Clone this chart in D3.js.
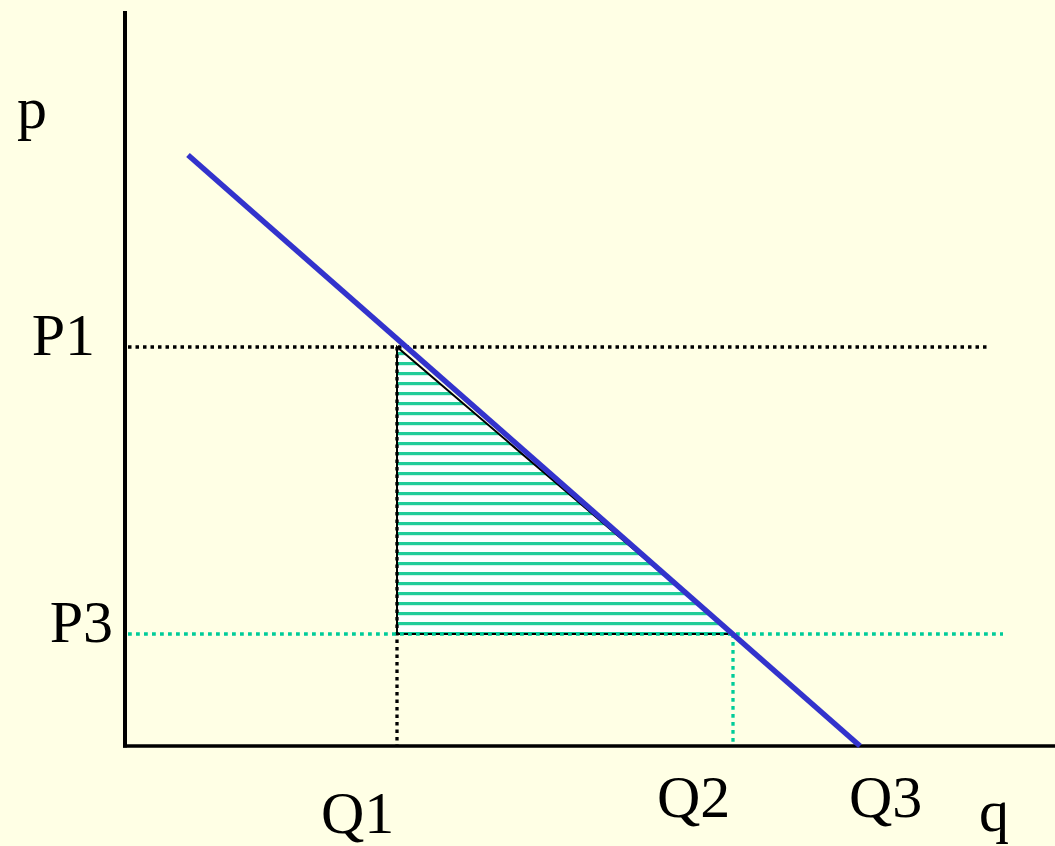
<!DOCTYPE html>
<html lang="en">
<head>
  <meta charset="UTF-8">
  <title>Demand triangle</title>
  <style>
    body { margin: 0; background: #ffffe5; }
    text { font-family: "Liberation Serif", "Times New Roman", Times, serif; font-size: 60px; fill: #000; }
  </style>
</head>
<body>
  <svg id="svg" width="1055" height="846"></svg>

  <script src="https://d3js.org/d3.v7.min.js"></script>
  <script>
    // quantities and prices (arbitrary units)
    const qLabels = ['Q1', 'Q2', 'Q3']
    const qValues = [27.2, 60.8, 73.5]
    const pLabels = ['P1', 'P3']
    const pValues = [39.9, 11.2]
    // demand curve end points [q, p]
    const demandQ = [6.3, 73.5]
    const demandP = [59.1, 0]

    const width = 1055
    const height = 846
    const origin = { x: 125, y: 746 }

    const x = d3.scaleLinear().domain([0, 93]).range([origin.x, 1055])
    const y = d3.scaleLinear().domain([0, 73.5]).range([origin.y, 11])

    const svg = d3.select('#svg')

    // hatch pattern for the shaded triangle
    const defs = svg.append('defs')
    const pat = defs.append('pattern')
      .attr('id', 'hatch')
      .attr('patternUnits', 'userSpaceOnUse')
      .attr('width', 20)
      .attr('height', 10)
      .attr('y', y(pValues[0]) + 1)
    pat.append('rect').attr('width', 20).attr('height', 10).attr('fill', '#ffffff')
    pat.append('rect').attr('y', 4).attr('width', 20).attr('height', 3.2).attr('fill', '#22cc99')

    const [Q1, Q2, Q3] = qValues
    const [P1, P3] = pValues

    // shaded triangle
    const tri = [[Q1, P1], [Q1, P3], [Q2, P3]]
    svg.append('path')
      .attr('d', d3.line().x(d => x(d[0])).y(d => y(d[1]))(tri) + 'Z')
      .attr('fill', 'url(#hatch)')
      .attr('stroke', '#000')
      .attr('stroke-width', 2)

    // dotted guides
    const black = '#000'
    const green = '#00cc99'
    svg.append('line')
      .attr('x1', x(0.3)).attr('x2', x(86.5))
      .attr('y1', y(P1)).attr('y2', y(P1))
      .attr('stroke', black).attr('stroke-width', 3.3).attr('stroke-dasharray', '3.5,4')
    svg.append('line')
      .attr('x1', x(Q1)).attr('x2', x(Q1))
      .attr('y1', y(P1)).attr('y2', y(0))
      .attr('stroke', black).attr('stroke-width', 3.3).attr('stroke-dasharray', '3.5,4')
    svg.append('line')
      .attr('x1', x(0.3)).attr('x2', x(87.8))
      .attr('y1', y(P3)).attr('y2', y(P3))
      .attr('stroke', green).attr('stroke-width', 3.3).attr('stroke-dasharray', '3.8,4.2')
    svg.append('line')
      .attr('x1', x(Q2)).attr('x2', x(Q2))
      .attr('y1', y(P3)).attr('y2', y(0))
      .attr('stroke', green).attr('stroke-width', 3.3).attr('stroke-dasharray', '3.8,4.2')

    // axes
    svg.append('line')
      .attr('x1', origin.x).attr('x2', origin.x)
      .attr('y1', y(73.5)).attr('y2', origin.y + 1.5)
      .attr('stroke', '#000').attr('stroke-width', 4)
    svg.append('line')
      .attr('x1', origin.x - 2).attr('x2', width)
      .attr('y1', origin.y).attr('y2', origin.y)
      .attr('stroke', '#000').attr('stroke-width', 3.5)

    // demand line
    svg.append('line')
      .attr('x1', x(demandQ[0])).attr('y1', y(demandP[0]))
      .attr('x2', x(demandQ[1])).attr('y2', y(demandP[1]))
      .attr('stroke', '#3333cc').attr('stroke-width', 5.5)

    // labels
    svg.append('text').attr('x', 17).attr('y', 128).text('p')
    svg.append('text').attr('x', 979).attr('y', 831).text('q')

    const pOff = [95, 113]
    pLabels.forEach((lab, i) => {
      svg.append('text')
        .attr('x', pOff[i]).attr('y', y(pValues[i]) + 8)
        .attr('text-anchor', 'end')
        .text(lab)
    })

    const qOff = [-76, -76, -11]
    const qBase = [833, 817, 817]
    qLabels.forEach((lab, i) => {
      svg.append('text')
        .attr('x', x(qValues[i]) + qOff[i]).attr('y', qBase[i])
        .text(lab)
    })
  </script>
</body>
</html>
